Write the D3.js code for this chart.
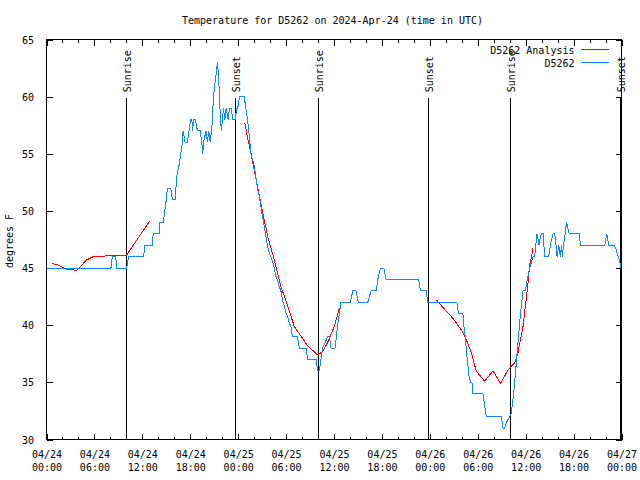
<!DOCTYPE html>
<html>
<head>
<meta charset="utf-8">
<script src="https://cdn.jsdelivr.net/npm/d3@7"></script>
<style>
  html, body { margin: 0; padding: 0; background: #fff; }
  svg { display: block; }
  text { font-family: "DejaVu Sans Mono", "Liberation Mono", monospace; font-size: 10px; fill: #000; }
</style>
</head>
<body>
<script>
// ---------------- DATA ----------------
const chartTitle = "Temperature for D5262 on 2024-Apr-24 (time in UTC)";
const yLabel = "degrees F";
const seriesNames = ["D5262 Analysis", "D5262"];
const startDate = Date.UTC(2024, 3, 24);          // 2024-04-24 00:00 UTC
const spanHours = 72;
const yTicks = [30, 35, 40, 45, 50, 55, 60, 65];

// Observations (hours since start, deg F)
const obsHours = [0, 8.07, 8.24, 8.66, 8.82, 10.04, 10.29, 12.17, 12.29, 13.26, 13.36, 14.09, 14.17, 14.64, 14.8, 15.0, 15.14, 15.55, 15.77, 16.1,
  16.31, 16.6, 16.81, 17.02, 17.1, 17.35, 17.65, 17.85, 18.06, 18.2, 18.3, 18.4, 18.65, 18.9, 19.23, 19.44, 19.57, 19.65, 19.98, 20.15,
  20.32, 20.5, 20.66, 20.78, 20.9, 21.07, 21.24, 21.41, 21.53, 21.66, 21.78, 21.91, 22.03, 22.16, 22.33, 22.49, 22.74, 22.91, 23.16, 23.29,
  23.62, 23.83, 23.95, 24.17, 24.75, 24.96, 25.17, 25.34, 25.46, 25.59, 25.8, 26.0, 26.2, 26.42, 26.63, 26.84, 27.05, 27.26, 27.47, 27.68,
  27.89, 28.1, 28.3, 28.51, 28.72, 28.93, 29.14, 29.35, 29.56, 29.77, 29.98, 30.19, 30.4, 30.6, 30.8, 31.44, 31.65, 32.49, 32.7, 33.75,
  33.96, 34.17, 34.37, 34.58, 34.9, 35.21, 35.42, 35.63, 36.13, 36.46, 36.88, 38.05, 38.35, 38.76, 39.05, 40.23, 40.64, 41.27, 41.48, 41.81,
  42.23, 42.52, 46.58, 46.83, 47.54, 47.75, 51.39, 51.6, 52.14, 52.26, 52.43, 52.6, 52.77, 52.89, 53.1, 53.27, 53.4, 54.65, 54.86, 55.07,
  56.95, 57.16, 57.36, 57.6, 57.99, 58.2, 58.41, 58.62, 58.83, 59.04, 59.25, 59.46, 59.67, 59.96, 60.21, 60.5, 60.92, 61.13, 61.34, 61.43,
  61.55, 61.67, 61.84, 61.97, 62.18, 62.3, 62.38, 62.88, 63.1, 63.31, 63.43, 63.64, 63.76, 63.93, 64.06, 64.14, 64.25, 64.35, 64.48, 64.6,
  64.73, 64.85, 64.94, 65.02, 65.14, 65.27, 65.44, 66.7, 66.86, 69.9, 70.03, 70.16, 70.28, 70.41, 71.08, 71.29, 71.46, 71.67, 71.8, 71.92];
const obsTemps = [45, 45, 46, 46, 45, 45, 46, 46, 47, 47, 48, 48, 49, 49, 50, 51, 52, 52, 51, 51,
  53, 54, 55, 56, 57, 56, 56, 57, 58, 58, 57, 58, 58, 57, 57, 56, 55, 56, 57, 56,
  57, 56, 57, 58, 60, 61, 62, 63, 62, 60, 58, 57, 58, 59, 58, 59, 58, 59, 59, 58,
  58, 59, 59, 60, 60, 59, 58, 57, 56, 55, 54.5, 54, 53, 52, 51.3, 50.4, 49.5, 48.7, 47.8, 46.9,
  46.3, 46, 45.6, 45, 44.3, 43.9, 43.4, 43, 42.2, 41.7, 41.1, 40.8, 40.2, 39.9, 39, 39, 38, 38, 37, 37,
  36, 36, 37, 38, 38.5, 39, 39, 38, 38, 40, 42, 42, 43, 43, 42, 42, 43, 43, 44, 45,
  45, 44, 44, 43, 43, 42, 42, 41, 41, 40, 39, 37.6, 36.5, 35.6, 35, 35, 34, 34, 33, 32,
  32, 31, 31, 31.5, 32, 32.3, 33.5, 35, 36.7, 38.5, 40.2, 41.7, 43, 43, 44, 45, 46, 46, 47.5, 48,
  47.5, 47, 47.7, 48, 48, 46.8, 46, 46, 47, 47.7, 48, 48, 47.3, 46, 46.5, 47, 46.5, 46, 47, 46,
  47, 47.5, 48, 48.5, 49, 48.5, 48, 48, 47, 47, 47.5, 48, 47.5, 47, 47, 46.7, 46.3, 45.8, 45.5, 45];

// Analysis (hours since start, deg F); null separates the three runs
const anaHours = [0.75, 1.3, 1.9, 2.5, 3.8, 4.2, 5.0, 5.85, 7.3, 7.35, 10.0, 12.9, null,
  24.84, 25.17, 25.59, 26.0, 26.84, 27.68, 28.51, 29.35, 30.19, 31.02, 31.86, 32.7, 33.96, 34.58, 35.21, 36.04, 36.67, null,
  48.83, 49.84, 50.89, 51.93, 52.56, 53.19, 53.81, 54.86, 55.91, 56.87, 57.79, 58.62, 59.04, 59.67, 60.3, 60.5, 60.71, 60.92];
const anaTemps = [45.4, 45.3, 45.1, 44.9, 44.8, 45.1, 45.7, 46.0, 46.0, 46.1, 46.1, 49.1, null,
  57.7, 56.4, 55.1, 53.6, 50.7, 47.8, 45.75, 43.4, 41.7, 39.9, 39.05, 38.2, 37.4, 37.7, 38.5, 39.9, 41.5, null,
  42.2, 41.4, 40.6, 39.6, 38.75, 37.6, 36.0, 35.1, 36.0, 34.9, 36.1, 36.7, 37.6, 39.9, 43.7, 45.3, 45.9, 46.8];

const sunriseHours = [9.95, 34.03, 57.99];
const sunsetHours = [23.62, 47.71, 71.83];
const sunMarkTop = 59.85;   // deg F where the sun marker lines start

// ---------------- LAYOUT ----------------
const W = 640, H = 480;
const L = 46.5, R = 621.5, T = 39.5, B = 439.5;
const red = "#ff0000", blue = "#1088ff";

const hToDate = h => new Date(startDate + h * 3600000);
const x = d3.scaleUtc().domain([hToDate(0), hToDate(spanHours)]).range([L, R]);
const y = d3.scaleLinear().domain([30, 65]).range([B, T]);

const svg = d3.select("body").append("svg").attr("width", W).attr("height", H);

// title
svg.append("text").attr("x", 332.5).attr("y", 23.5).attr("text-anchor", "middle").text(chartTitle);

// y label
svg.append("text").attr("transform", "translate(13,241) rotate(-90)").attr("text-anchor", "middle").text(yLabel);

// axes: major (6h) + minor (2h) ticks, inward, mirrored
function styleAxis(g) {
  g.select(".domain").remove();
  g.selectAll("line").attr("stroke", "#000").attr("shape-rendering", "crispEdges");
}
const major = d3.utcHour.every(6), minor = d3.utcHour.every(2);

svg.append("g").attr("transform", `translate(0,${B})`)
  .call(d3.axisBottom(x).ticks(minor).tickSize(-3).tickFormat(""))
  .call(styleAxis);
svg.append("g").attr("transform", `translate(0,${T})`)
  .call(d3.axisTop(x).ticks(minor).tickSize(-3).tickFormat(""))
  .call(styleAxis);
svg.append("g").attr("transform", `translate(0,${T})`)
  .call(d3.axisTop(x).ticks(major).tickSize(-6).tickFormat(""))
  .call(styleAxis);

const fmtDay = d3.utcFormat("%m/%d"), fmtTime = d3.utcFormat("%H:%M");
const xb = svg.append("g").attr("transform", `translate(0,${B})`)
  .call(d3.axisBottom(x).ticks(major).tickSize(-6).tickPadding(0).tickFormat(fmtDay))
  .call(styleAxis);
xb.selectAll(".tick text").each(function(d) {
  const t = d3.select(this);
  t.text(null).attr("y", 0).attr("dy", null).attr("font-size", null).attr("font-family", null);
  t.append("tspan").attr("x", 0).attr("y", 18).text(fmtDay(d));
  t.append("tspan").attr("x", 0).attr("y", 31.5).text(fmtTime(d));
});

const yl = svg.append("g").attr("transform", `translate(${L},0)`)
  .call(d3.axisLeft(y).tickValues(yTicks).tickSize(-6).tickPadding(12.5))
  .call(styleAxis);
yl.selectAll(".tick text").attr("font-size", null).attr("font-family", null).attr("dy", "0.36em");
svg.append("g").attr("transform", `translate(${R},0)`)
  .call(d3.axisRight(y).tickValues(yTicks).tickSize(-6).tickFormat(""))
  .call(styleAxis);

// sun markers
const sunEvents = sunriseHours.map(h => ({h, label: "Sunrise"}))
  .concat(sunsetHours.map(h => ({h, label: "Sunset"})));
const sg = svg.append("g");
sg.selectAll("line").data(sunEvents).join("line")
  .attr("x1", d => Math.round(x(hToDate(d.h))) + 0.5).attr("x2", d => Math.round(x(hToDate(d.h))) + 0.5)
  .attr("y1", y(sunMarkTop)).attr("y2", B)
  .attr("stroke", "#000").attr("shape-rendering", "crispEdges");
sg.selectAll("text").data(sunEvents).join("text")
  .attr("transform", d => `translate(${Math.round(x(hToDate(d.h))) + 0.5},${y(sunMarkTop) - 6}) rotate(-90)`)
  .attr("dy", "0.45em").text(d => d.label);

// data lines
const clip = svg.append("clipPath").attr("id", "plotclip").append("rect")
  .attr("x", L).attr("y", T).attr("width", R - L).attr("height", B - T);

const anaPts = anaHours.map((h, i) => (h === null ? null : [hToDate(h), anaTemps[i]]));
const obsPts = obsHours.map((h, i) => [hToDate(h), obsTemps[i]]);
const line = d3.line().defined(d => d !== null).x(d => x(d[0])).y(d => y(d[1]));

svg.append("path").datum(anaPts).attr("d", line)
  .attr("fill", "none").attr("stroke", red).attr("stroke-width", 1).attr("shape-rendering", "crispEdges")
  .attr("clip-path", "url(#plotclip)");
svg.append("path").datum(obsPts).attr("d", line)
  .attr("fill", "none").attr("stroke", blue).attr("stroke-width", 1).attr("shape-rendering", "crispEdges")
  .attr("clip-path", "url(#plotclip)");

// border
svg.append("rect").attr("x", L).attr("y", T).attr("width", R - L).attr("height", B - T)
  .attr("fill", "none").attr("stroke", "#000").attr("shape-rendering", "crispEdges");

// legend
const legColors = [red, blue];
const lg = svg.append("g");
seriesNames.forEach((name, i) => {
  const ly = 49.5 + i * 13;
  lg.append("text").attr("x", 574.5).attr("y", ly + 4).attr("text-anchor", "end").text(name);
  lg.append("line").attr("x1", 581).attr("x2", 609).attr("y1", ly).attr("y2", ly)
    .attr("stroke", legColors[i]).attr("shape-rendering", "crispEdges");
});
</script>
</body>
</html>
